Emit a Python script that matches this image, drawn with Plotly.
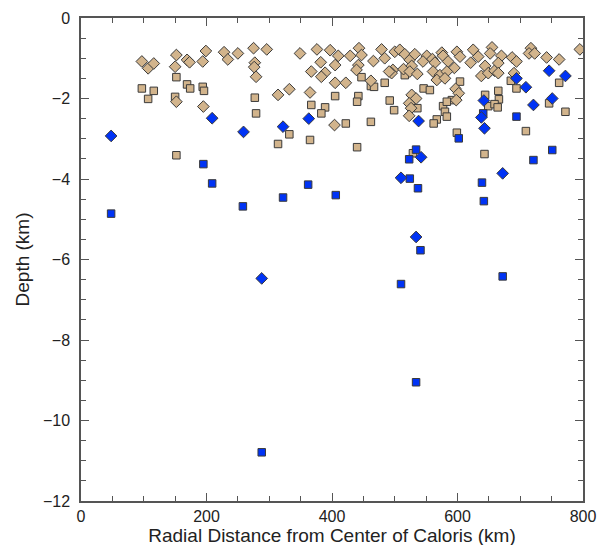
import plotly.graph_objects as go

# Tan diamonds (x km, depth km)
tan_dia_x = [97,107,116,152,150,169,173,194,199,195,152,
             228,234,250,275,296,277,276,279,314,332,349,376,397,382,367,389,383,365,404,
             410,405,429,443,447,442,439,466,479,484,497,495,500,508,516,514,524,527,524,536,532,
             551,545,560,564,575,577,585,595,561,572,583,567,580,405,422,491,462,597,602,527,534,
             523,526,523,
             599,604,625,621,633,655,652,644,638,649,659,670,665,665,687,694,690,717,714,723,742,
             762,795,598]
tan_dia_y = [-1.08,-1.25,-1.13,-0.92,-1.21,-1.04,-1.10,-1.08,-0.82,-2.20,-2.08,
             -0.85,-1.03,-0.88,-0.75,-0.78,-1.11,-1.22,-1.46,-1.91,-1.77,-0.88,-0.78,-0.80,-1.10,-1.33,-1.36,-1.46,-1.85,-2.66,
             -0.94,-1.17,-0.94,-0.75,-0.92,-1.17,-1.29,-1.07,-0.78,-1.00,-1.29,-1.37,-0.84,-0.79,-0.90,-1.27,-1.04,-1.19,-1.33,-1.39,-0.90,
             -0.94,-1.08,-1.02,-1.11,-0.86,-0.94,-1.08,-1.24,-1.33,-1.42,-1.33,-1.54,-1.50,-1.61,-1.61,-1.33,-1.56,-1.76,-1.87,-1.91,-2.00,
             -2.12,-2.24,-2.43,
             -0.84,-0.96,-0.79,-1.11,-0.96,-0.73,-0.88,-1.19,-1.44,-1.37,-1.31,-0.94,-1.12,-1.37,-0.98,-1.08,-1.37,-0.75,-0.88,-0.88,-0.98,
             -1.03,-0.78,-2.04]

# Tan squares
tan_sq_x = [97,107,116,152,150,169,174,194,196,152,
            277,279,332,314,367,389,383,365,405,
            447,462,467,484,516,546,556,442,440,492,499,536,577,591,583,580,583,567,562,422,462,440,599,
            604,644,665,666,649,659,664,685,694,746,762,772,709,643,529]
tan_sq_y = [-1.75,-2.01,-1.81,-1.47,-1.96,-1.65,-1.75,-1.71,-1.81,-3.41,
            -1.98,-2.37,-2.89,-3.13,-2.16,-2.22,-2.37,-3.03,-1.94,
            -1.47,-1.69,-1.71,-1.61,-1.42,-1.75,-1.79,-1.94,-2.08,-2.05,-2.29,-2.24,-2.19,-2.04,-2.08,-2.33,-2.45,-2.52,-2.62,-2.62,-2.58,-3.21,-2.85,
            -1.58,-1.91,-1.81,-2.02,-2.19,-2.14,-2.22,-1.56,-1.75,-2.12,-1.61,-2.33,-2.81,-3.38,-3.36]

# Blue diamonds
blue_dia_x = [48,209,259,322,363,538,542,510,534,288,672,642,638,643,694,709,721,746,772,751]
blue_dia_y = [-2.93,-2.49,-2.83,-2.70,-2.50,-2.56,-3.46,-3.97,-5.44,-6.47,-3.86,-2.05,-2.47,-2.74,
              -1.50,-1.72,-2.16,-1.31,-1.44,-2.00]

# Blue squares
blue_sq_x = [48,195,209,258,322,362,406,288,534,510,541,672,523,524,537,534,602,641,694,639,642,721,751]
blue_sq_y = [-4.86,-3.63,-4.11,-4.68,-4.46,-4.14,-4.40,-10.79,-9.05,-6.61,-5.77,-6.42,-3.51,-3.99,-4.23,
             -3.27,-2.99,-2.37,-2.45,-4.09,-4.55,-3.53,-3.28]

TAN = "#D2B48C"
BLUE = "#0033F5"
EDGE = "#3a3a3a"

fig = go.Figure()
fig.add_trace(go.Scatter(x=tan_sq_x, y=tan_sq_y, mode="markers",
                         marker=dict(symbol="square", size=7.5, color=TAN, line=dict(color=EDGE, width=1))))
fig.add_trace(go.Scatter(x=tan_dia_x, y=tan_dia_y, mode="markers",
                         marker=dict(symbol="diamond", size=9, color=TAN, line=dict(color=EDGE, width=1))))
fig.add_trace(go.Scatter(x=blue_sq_x, y=blue_sq_y, mode="markers",
                         marker=dict(symbol="square", size=7.5, color=BLUE, line=dict(color=EDGE, width=1))))
fig.add_trace(go.Scatter(x=blue_dia_x, y=blue_dia_y, mode="markers",
                         marker=dict(symbol="diamond", size=9, color=BLUE, line=dict(color=EDGE, width=1))))

axcol = "#555555"
fig.update_layout(
    width=606, height=545,
    margin=dict(l=73, r=31, t=10, b=52),
    paper_bgcolor="white", plot_bgcolor="white",
    showlegend=False,
    font=dict(family="Liberation Sans, Arial, sans-serif", size=16, color="#222"),
)
fig.update_xaxes(range=[0, 800], tickvals=[0, 200, 400, 600, 800],
                 ticks="inside", ticklen=8, tickcolor=axcol, tickwidth=1,
                 minor=dict(dtick=50, ticks="inside", ticklen=5, tickcolor=axcol),
                 showline=True, linecolor=axcol, linewidth=1.5, mirror="ticks",
                 showgrid=False, zeroline=False,
                 title=dict(text="Radial Distance from Center of Caloris (km)", standoff=2),
                 automargin=False)
fig.update_yaxes(range=[-12, 0], tickvals=[-12, -10, -8, -6, -4, -2, 0],
                 ticks="inside", ticklen=8, tickcolor=axcol, tickwidth=1,
                 minor=dict(dtick=0.5, ticks="inside", ticklen=5, tickcolor=axcol),
                 showline=True, linecolor=axcol, linewidth=1.5, mirror="ticks",
                 showgrid=False, zeroline=False, ticklabelstandoff=6,
                 title=dict(text="Depth (km)", standoff=8),
                 automargin=False)

fig.write_html("out.html")
